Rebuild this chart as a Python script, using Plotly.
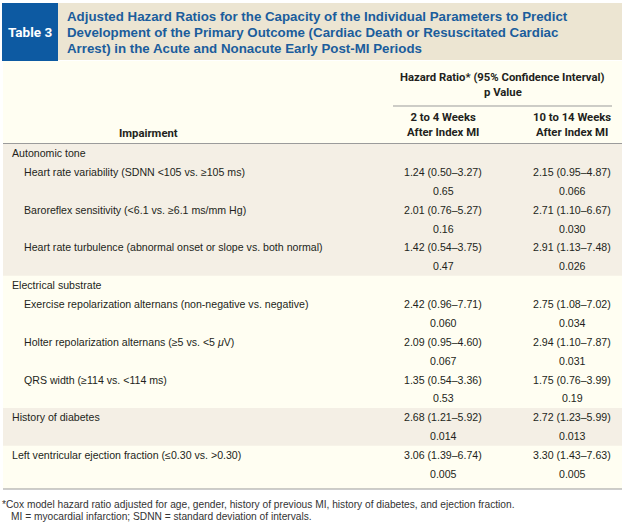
import plotly.graph_objects as go

# ---------------- data ----------------
table_label = "Table 3"
title_lines = [
    "Adjusted Hazard Ratios for the Capacity of the Individual Parameters to Predict",
    "Development of the Primary Outcome (Cardiac Death or Resuscitated Cardiac",
    "Arrest) in the Acute and Nonacute Early Post-MI Periods",
]
group_header = ["Hazard Ratio* (95% Confidence Interval)", "p Value"]
col_headers = ["Impairment", "2 to 4 Weeks<br>After Index MI", "10 to 14 Weeks<br>After Index MI"]

groups = ["Autonomic tone", "Autonomic tone", "Autonomic tone",
          "Electrical substrate", "Electrical substrate", "Electrical substrate",
          None, None]
impairments = [
    "Heart rate variability (SDNN &lt;105 vs. ≥105 ms)",
    "Baroreflex sensitivity (&lt;6.1 vs. ≥6.1 ms/mm Hg)",
    "Heart rate turbulence (abnormal onset or slope vs. both normal)",
    "Exercise repolarization alternans (non-negative vs. negative)",
    "Holter repolarization alternans (≥5 vs. &lt;5 <i>μ</i>V)",
    "QRS width (≥114 vs. &lt;114 ms)",
    "History of diabetes",
    "Left ventricular ejection fraction (≤0.30 vs. &gt;0.30)",
]
hr_acute = [1.24, 2.01, 1.42, 2.42, 2.09, 1.35, 2.68, 3.06]
lo_acute = [0.50, 0.76, 0.54, 0.96, 0.95, 0.54, 1.21, 1.39]
hi_acute = [3.27, 5.27, 3.75, 7.71, 4.60, 3.36, 5.92, 6.74]
p_acute = ["0.65", "0.16", "0.47", "0.060", "0.067", "0.53", "0.014", "0.005"]
hr_late = [2.15, 2.71, 2.91, 2.75, 2.94, 1.75, 2.72, 3.30]
lo_late = [0.95, 1.10, 1.13, 1.08, 1.10, 0.76, 1.23, 1.43]
hi_late = [4.87, 6.67, 7.48, 7.02, 7.87, 3.99, 5.99, 7.63]
p_late = ["0.066", "0.030", "0.026", "0.034", "0.031", "0.19", "0.013", "0.005"]
footnotes = [
    "*Cox model hazard ratio adjusted for age, gender, history of previous MI, history of diabetes, and ejection fraction.",
    "MI = myocardial infarction; SDNN = standard deviation of intervals.",
]

# ---------------- style ----------------
W, H = 628, 524
BLUE_BOX = "#0d5aa2"
TITLE_BLUE = "#1b5d9c"
TITLE_BAND = "#ece5d2"
BEIGE = "#f4efe5"
CREAM = "#fffef2"
RULE = "#9b9b9b"
TXT = "#231f20"
HEAD_FONT = "Roboto, Liberation Sans, Arial, sans-serif"
TITLE_FONT = "Liberation Sans, Arial, sans-serif"
BODY_FONT = "Liberation Sans, Arial, sans-serif"

L, R = 3, 622
X_IMP_GROUP, X_IMP_ITEM = 10, 22
X_C1, X_C2 = 443, 572
Y0, STEP = 153, 18.88

fig = go.Figure()
shapes, ann = [], []

def rect(x0, y0, x1, y1, color):
    shapes.append(dict(type="rect", xref="x", yref="y", x0=x0, y0=y0, x1=x1, y1=y1,
                       fillcolor=color, line=dict(width=0), layer="below"))

def hline(x0, x1, y, color=RULE, w=1):
    shapes.append(dict(type="line", xref="x", yref="y", x0=x0, x1=x1, y0=y, y1=y,
                       line=dict(color=color, width=w)))

def text(x, y, s, size=10.6, color=TXT, anchor="left", family=BODY_FONT):
    ann.append(dict(x=x, y=y, xref="x", yref="y", text=s, showarrow=False,
                    xanchor=anchor, yanchor="middle", align="center" if anchor == "center" else "left",
                    font=dict(size=size, color=color, family=family)))

# title block
rect(L - 1, 3, 58, 61, BLUE_BOX)
rect(58, 3, R, 60, TITLE_BAND)
text(30, 32, "<b>" + table_label + "</b>", size=13.5, color="white", anchor="center", family=HEAD_FONT)
for i, line in enumerate(title_lines):
    text(65, 16.5 + i * 15.9, "<b>" + line + "</b>", size=13.3, color=TITLE_BLUE, family=TITLE_FONT)

# table body background
rect(L, 61, R, 489, CREAM)

# header
HC = (393 + 612) / 2
text(HC, 77, "<b>" + group_header[0] + "</b>", size=11.3, anchor="center", family=HEAD_FONT)
text(HC, 92, "<b>" + group_header[1] + "</b>", size=11.3, anchor="center", family=HEAD_FONT)
hline(393, 612, 106)
text(148, 133, "<b>" + col_headers[0] + "</b>", size=11.3, anchor="center", family=HEAD_FONT)
text(X_C1, 125, "<b>" + col_headers[1] + "</b>", size=11.3, anchor="center", family=HEAD_FONT)
text(X_C2, 125, "<b>" + col_headers[2] + "</b>", size=11.3, anchor="center", family=HEAD_FONT)

# build body line list
lines = []  # (kind, label, block)
prev = object()
for i, imp in enumerate(impairments):
    g = groups[i]
    if g is not None and g != prev:
        lines.append(("group", g, g))
    blk = g if g is not None else "single%d" % i
    lines.append(("item", i, blk))
    lines.append(("p", i, blk))
    prev = g

def ly(k):
    return Y0 + STEP * k

# background bands by block (alternating beige / cream)
blocks = []
for k, (kind, lab, blk) in enumerate(lines):
    if not blocks or blocks[-1][0] != blk:
        blocks.append([blk, k, k])
    else:
        blocks[-1][2] = k
for b, (blk, k0, k1) in enumerate(blocks):
    if b % 2 == 0:
        rect(L, ly(k0) - STEP / 2, R, ly(k1) + STEP / 2, BEIGE)

for k, (kind, lab, blk) in enumerate(lines):
    y = ly(k)
    if kind == "group":
        text(X_IMP_GROUP, y, lab)
    elif kind == "item":
        i = lab
        x = X_IMP_ITEM if groups[i] is not None else X_IMP_GROUP
        text(x, y, impairments[i])
        text(X_C1, y, f"{hr_acute[i]:.2f} ({lo_acute[i]:.2f}–{hi_acute[i]:.2f})", anchor="center")
        text(X_C2, y, f"{hr_late[i]:.2f} ({lo_late[i]:.2f}–{hi_late[i]:.2f})", anchor="center")
    else:
        i = lab
        text(X_C1, y, p_acute[i], anchor="center")
        text(X_C2, y, p_late[i], anchor="center")

hline(L, R, 143.5)
hline(L, R, 489)

text(0, 504, footnotes[0], size=10.2, color="#333333")
text(9, 516.5, footnotes[1], size=10.2, color="#333333")

fig.update_layout(
    width=W, height=H, margin=dict(l=0, r=0, t=0, b=0),
    paper_bgcolor="white", plot_bgcolor="white",
    xaxis=dict(range=[0, W], visible=False, fixedrange=True),
    yaxis=dict(range=[H, 0], visible=False, fixedrange=True),
    shapes=shapes, annotations=ann, showlegend=False,
)
fig.write_html("out.html", config={"displayModeBar": False},
               post_script="document.body.style.margin='0';document.body.style.padding='0';")
